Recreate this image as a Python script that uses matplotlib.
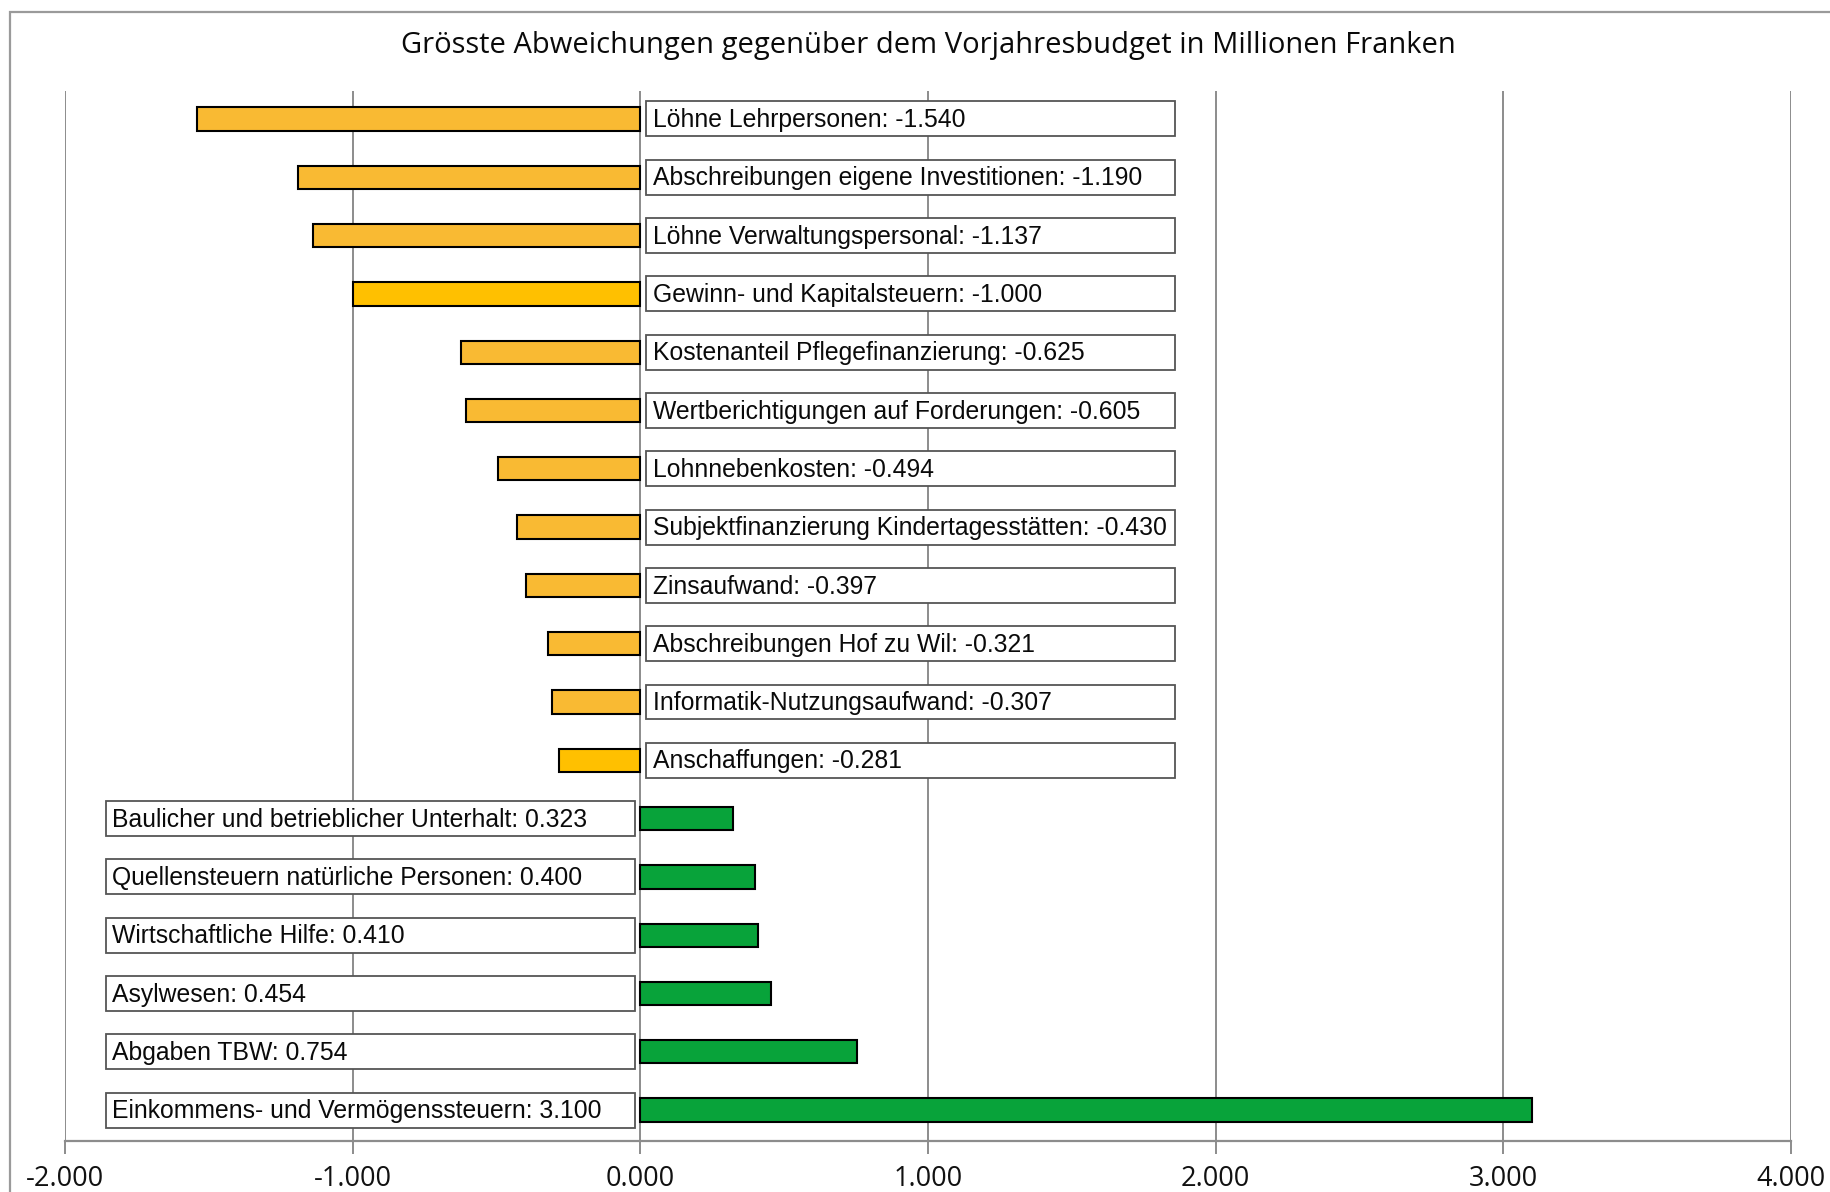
import numpy as np
import matplotlib.pyplot as plt
from matplotlib.patches import Rectangle
from matplotlib.ticker import FormatStrFormatter

plt.rcParams['axes.unicode_minus'] = False

names = ["Löhne Lehrpersonen", "Abschreibungen eigene Investitionen",
         "Löhne Verwaltungspersonal", "Gewinn- und Kapitalsteuern",
         "Kostenanteil Pflegefinanzierung", "Wertberichtigungen auf Forderungen",
         "Lohnnebenkosten", "Subjektfinanzierung Kindertagesstätten",
         "Zinsaufwand", "Abschreibungen Hof zu Wil",
         "Informatik-Nutzungsaufwand", "Anschaffungen",
         "Baulicher und betrieblicher Unterhalt",
         "Quellensteuern natürliche Personen", "Wirtschaftliche Hilfe",
         "Asylwesen", "Abgaben TBW", "Einkommens- und Vermögenssteuern"]
values = [-1.540, -1.190, -1.137, -1.000, -0.625, -0.605, -0.494, -0.430,
          -0.397, -0.321, -0.307, -0.281, 0.323, 0.400, 0.410, 0.454, 0.754, 3.100]
xticks = [-2, -1, 0, 1, 2, 3, 4]

def bar_color(name, v):
    if v > 0:
        return '#08A33A'
    if name in ("Gewinn- und Kapitalsteuern", "Anschaffungen"):
        return '#FFC000'
    return '#F9BA33'

W, H = 1831, 1192
fig = plt.figure(figsize=(W/100, H/100), dpi=100)
ax = fig.add_axes([65/W, 1-1141/H, (1791-65)/W, (1141-91)/H])

# outer frame
fig.add_artist(Rectangle((10/W, -0.1), 1.0, 1-12/H+0.1, transform=fig.transFigure,
                         fill=False, edgecolor='#9a9a9a', lw=1.6))

y = np.arange(len(names))
colors = [bar_color(n, v) for n, v in zip(names, values)]
ax.barh(y, values, height=0.4, color=colors, edgecolor='black', lw=1.5, zorder=3)

lab_font = dict(family=['Liberation Sans', 'DejaVu Sans'], fontsize=17.8, color='#0a0a0a')
for i, (n, v) in enumerate(zip(names, values)):
    if v < 0:
        x0, x1, tx = 0.02, 1.857, 0.045
    else:
        x0, x1, tx = -1.858, -0.02, -1.835
    ax.add_patch(Rectangle((x0, i-0.3), x1-x0, 0.6, facecolor='white',
                           edgecolor='#555555', lw=1.3, zorder=3))
    ax.text(tx, i + 0.02, f"{n}: {v:.3f}", va='center', ha='left', zorder=4, **lab_font)

ax.set_xlim(-2, 4)
ax.set_ylim(17.53, -0.48)
ax.set_xticks(xticks)
ax.xaxis.set_major_formatter(FormatStrFormatter('%.3f'))
ax.set_yticks([])
ax.xaxis.grid(True, color='#8c8c8c', lw=1.4)
ax.set_axisbelow(True)
for s in ['top', 'left', 'right']:
    ax.spines[s].set_visible(False)
ax.spines['bottom'].set_color('#8c8c8c')
ax.spines['bottom'].set_linewidth(1.6)
ax.tick_params(axis='x', length=9, width=1.4, color='#8c8c8c', pad=8,
               labelsize=19.5, labelcolor='#111111')
for t in ax.get_xticklabels():
    t.set_family(['Open Sans', 'DejaVu Sans'])

fig.text(928/W, 1-46/H, "Grösste Abweichungen gegenüber dem Vorjahresbudget in Millionen Franken",
         ha='center', va='center', fontsize=21, family=['Open Sans', 'DejaVu Sans'],
         color='#0a0a0a')

fig.savefig('out.png', dpi=100)
